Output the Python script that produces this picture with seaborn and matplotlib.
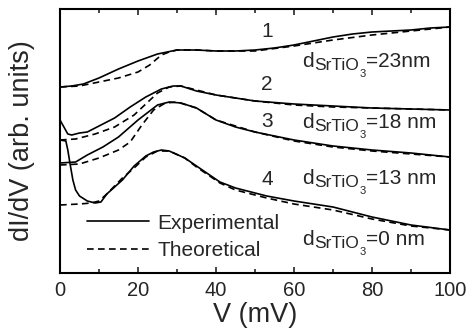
import matplotlib
matplotlib.use("Agg")
import matplotlib.pyplot as plt
import matplotlib.transforms as mtransforms
from matplotlib.ticker import MultipleLocator
import numpy as np
import pandas as pd
import seaborn as sns

# ---- data (dI/dV in arbitrary units, curves offset vertically) ----
V1_exp = [0, 3, 6, 10, 15, 20, 25, 30, 35, 40, 45, 50, 55, 60, 65, 70, 75, 80, 85, 90, 95, 100]
G1_exp = [186, 187, 189, 195, 204, 212, 219, 223, 223, 222, 222, 223, 225, 228, 232, 236, 239, 241, 242, 243, 245, 246]
V1_th = [0, 5, 10, 15, 20, 23, 26, 28, 30, 35, 40, 50, 60, 70, 80, 90, 100]
G1_th = [186, 187, 191, 195, 201, 208, 218, 221, 223, 223, 222, 222, 227, 233, 238, 242, 246]

V2_exp = [0, 1, 2, 3, 5, 7, 10, 14, 18, 22, 26, 29, 31, 35, 40, 45, 50, 60, 70, 80, 90, 100]
G2_exp = [153, 146, 139, 138, 140, 141, 147, 155, 166, 176, 184, 187, 187, 182, 178, 175, 172, 169, 167, 165, 164, 163]
V2_th = [0, 4, 9, 14, 19, 22, 25, 28, 31, 35, 40, 50, 60, 70, 80, 90, 100]
G2_th = [133, 134, 139, 146, 158, 169, 180, 186, 187, 183, 178, 172, 168, 166, 165, 164, 163]

V3_exp = [0, 4, 7, 11, 15, 20, 25, 28, 31, 35, 40, 45, 50, 60, 70, 80, 90, 100]
G3_exp = [110, 111, 118, 126, 136, 153, 168, 171, 170, 165, 153, 146, 141, 133, 127, 123, 120, 116]
V3_th = [0, 5, 10, 15, 18, 21, 24, 27, 30, 35, 40, 50, 60, 70, 80, 90, 100]
G3_th = [108, 109, 115, 123, 131, 148, 163, 170, 171, 165, 153, 141, 132, 126, 122, 119, 116]

V4_exp = [0, 1.5, 2, 2.5, 3.3, 4, 5, 7, 9, 10.5, 12, 14, 16, 19, 22, 24, 26, 28, 32, 35, 41, 45, 53, 60, 70, 80, 90, 100]
G4_exp = [133, 132, 123, 111, 93, 83, 77, 72, 70, 71, 79, 86, 93, 107, 117, 121, 123, 122, 115, 107, 91, 85, 77, 72, 66, 56, 48, 43]
V4_th = [0, 5, 8, 10, 12, 16, 19, 22, 25, 28, 32, 35, 41, 45, 53, 60, 70, 80, 90, 100]
G4_th = [68, 69, 70, 72, 79, 95, 105, 116, 122, 122, 115, 106, 90, 83, 75, 69, 63, 54, 47, 43]

curve_numbers = ["1", "2", "3", "4"]
thickness_labels = ["23nm", "18 nm", "13 nm", "0 nm"]
legend_labels = ["Experimental", "Theoretical"]
x_ticks = [0, 20, 40, 60, 80, 100]

sns.set_style("ticks")
plt.rcParams["font.family"] = ["Liberation Sans", "DejaVu Sans"]

fig = plt.figure(figsize=(4.7, 3.35), dpi=100)
ax = fig.add_axes([60 / 470, (335 - 273) / 335, 390 / 470, 264 / 335])

lw = 1.2
dash = (0, (4, 2.6))
exp_sets = [(V1_exp, G1_exp), (V2_exp, G2_exp), (V3_exp, G3_exp), (V4_exp, G4_exp)]
th_sets = [(V1_th, G1_th), (V2_th, G2_th), (V3_th, G3_th), (V4_th, G4_th)]
for i, ((ve, ge), (vt, gt)) in enumerate(zip(exp_sets, th_sets)):
    sns.lineplot(x=ve, y=ge, ax=ax, color="black", lw=lw, estimator=None,
                 label=legend_labels[0] if i == 3 else None, legend=False)
    sns.lineplot(x=vt, y=gt, ax=ax, color="black", lw=lw, estimator=None,
                 label=legend_labels[1] if i == 3 else None, legend=False)
for line in ax.lines[1::2]:
    line.set_linestyle(dash)

ax.set_xlim(0, 100)
ax.set_ylim(0, 264)
ax.set_yticks([])
ax.set_xticks(x_ticks)
ax.xaxis.set_minor_locator(MultipleLocator(10))
ax.tick_params(axis="x", which="both", direction="in", top=True, bottom=True,
               labelsize=14.5, pad=6, width=1.2)
ax.tick_params(axis="x", which="major", length=4.5)
ax.tick_params(axis="x", which="minor", length=3)
for sp in ax.spines.values():
    sp.set_visible(True)
    sp.set_linewidth(1.5)
    sp.set_color("black")

ax.set_xlabel("V (mV)", fontsize=19.5, labelpad=1)
ax.set_ylabel("dI/dV (arb. units)", fontsize=19.5, labelpad=18)

leg = ax.legend(loc="upper left", bbox_to_anchor=(0.069, 0.225), frameon=False,
                fontsize=15, handlelength=3.0, handletextpad=0.4,
                labelspacing=0.4, borderpad=0, borderaxespad=0)

def px2data(px, py):
    return (px - 60) / 3.9, 273 - py

# curve numbers
for lab, py in zip(curve_numbers, [37, 90, 127, 185]):
    x, y = px2data(267, py)
    ax.text(x, y, lab, fontsize=15, ha="center", va="baseline")

renderer = fig.canvas.get_renderer()

def rich(x, y, parts):
    dx = 0.0
    for s, fs, dy in parts:
        tr = mtransforms.offset_copy(ax.transData, fig=fig, x=dx, y=dy, units="points")
        t = ax.text(x, y, s, fontsize=fs, transform=tr, ha="left", va="baseline")
        w = t.get_window_extent(renderer).width
        dx += w * 72.0 / fig.dpi + 0.4

for lab, py in zip(thickness_labels, [67, 128, 184, 245]):
    x, y = px2data(302, py)
    rich(x, y, [("d", 15, 0), ("SrTiO", 12.5, -2.2), ("3", 8, -7.0), ("=" + lab, 15, 0)])

fig.savefig("out.png", dpi=100)
